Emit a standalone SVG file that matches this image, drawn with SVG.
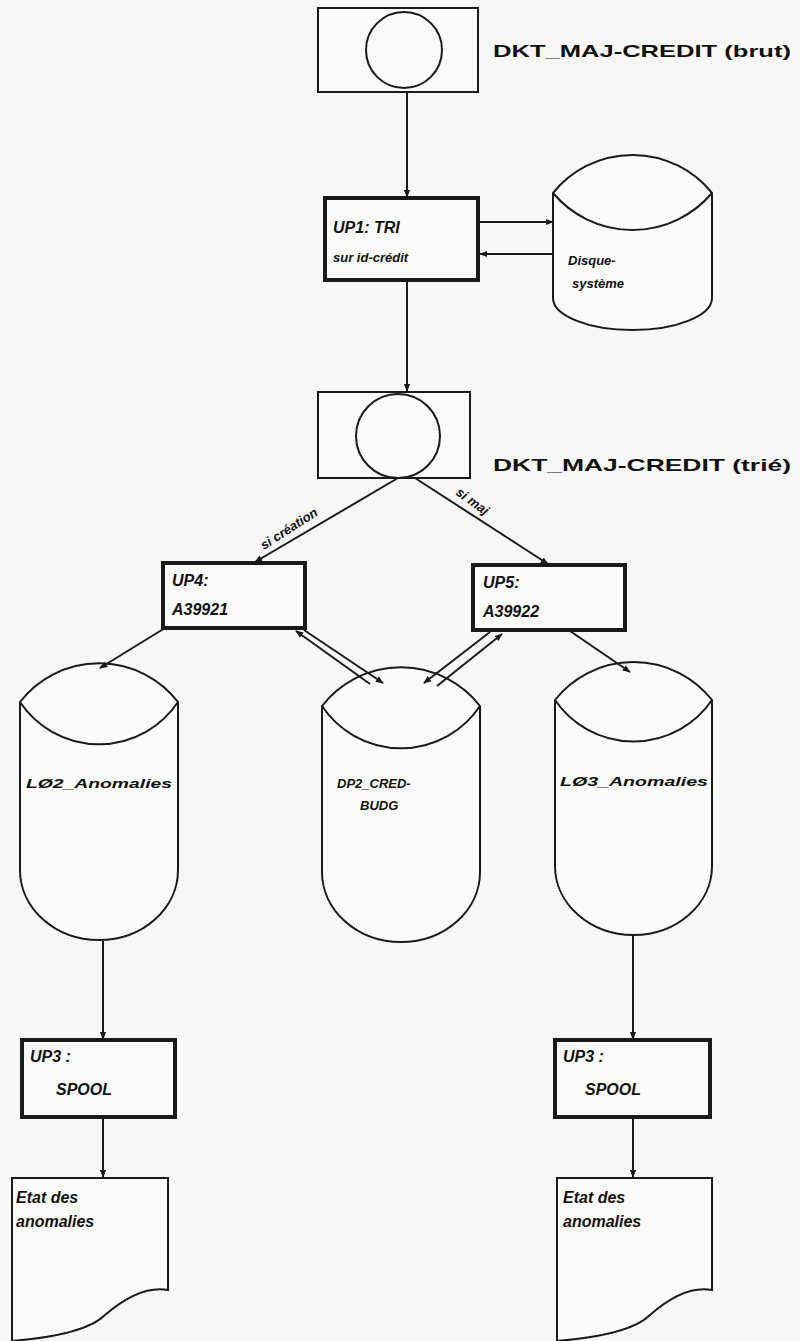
<svg xmlns="http://www.w3.org/2000/svg" width="800" height="1341" viewBox="0 0 800 1341">
<defs>
<marker id="ah" viewBox="0 0 10 10" refX="9" refY="5" markerWidth="8" markerHeight="8" markerUnits="userSpaceOnUse" orient="auto"><path d="M0,1 L10,5 L0,9 z" fill="#1a1a1a"/></marker>
</defs>
<style>
.bg{fill:#f7f7f5}
.ln{fill:none;stroke:#1a1a1a;stroke-width:2}
.box{fill:#fbfbfa;stroke:#1a1a1a;stroke-width:2}
.pbox{fill:#fbfbfa;stroke:#1a1a1a;stroke-width:4}
.shape{fill:#fbfbfa;stroke:#1a1a1a;stroke-width:2}
.con{fill:none;stroke:#1a1a1a;stroke-width:2;marker-end:url(#ah)}
.t{font-family:"Liberation Sans",Arial,sans-serif;font-weight:bold;font-style:italic;fill:#111}
.lab{font-family:"Liberation Sans",Arial,sans-serif;font-weight:bold;fill:#111;font-size:17px}
.p{font-size:16px}
.s{font-size:13px}
.xs{font-size:12px}
</style>
<rect class="bg" x="0" y="0" width="800" height="1341"/>

<g id="dkt-brut">
<rect class="box" x="318" y="8" width="160" height="84"/>
<circle class="ln" cx="404" cy="50" r="38"/>
<text class="lab" x="493" y="57" textLength="298" lengthAdjust="spacingAndGlyphs">DKT_MAJ-CREDIT (brut)</text>
</g>

<g id="up1">
<rect class="pbox" x="325" y="198" width="153" height="82"/>
<text class="t p" x="333" y="233">UP1: TRI</text>
<text class="t s" x="333" y="262">sur id-crédit</text>
</g>

<g id="disque">
<path class="shape" d="M553,193 A102,102 0 0 1 712,193 L712,298 A79.5,32 0 0 1 553,298 Z"/>
<path class="ln" d="M553,193 A104,104 0 0 0 712,193"/>
<text class="t s" x="568" y="265">Disque-</text>
<text class="t s" x="572" y="288">système</text>
</g>

<g id="dkt-trie">
<rect class="box" x="318" y="392" width="152" height="86"/>
<circle class="ln" cx="398" cy="436" r="42"/>
<text class="lab" x="493" y="471" textLength="298" lengthAdjust="spacingAndGlyphs">DKT_MAJ-CREDIT (trié)</text>
</g>

<g id="up4">
<rect class="pbox" x="163" y="563" width="142" height="65"/>
<text class="t p" x="172" y="586">UP4:</text>
<text class="t p" x="172" y="615">A39921</text>
</g>

<g id="up5">
<rect class="pbox" x="473" y="565" width="152" height="65"/>
<text class="t p" x="483" y="588">UP5:</text>
<text class="t p" x="483" y="617">A39922</text>
</g>

<g id="lo2">
<path class="shape" d="M20,702 A100,100 0 0 1 178,702 L178,870 A79,70 0 0 1 20,870 Z"/>
<path class="ln" d="M20,702 A95,95 0 0 0 178,702"/>
<text class="t xs" x="26" y="788" textLength="146" lengthAdjust="spacingAndGlyphs">LØ2_Anomalies</text>
</g>

<g id="dp2">
<path class="shape" d="M322,706 A100,100 0 0 1 480,706 L480,872 A79,70 0 0 1 322,872 Z"/>
<path class="ln" d="M322,706 A95,95 0 0 0 480,706"/>
<text class="t s" x="337" y="788">DP2_CRED-</text>
<text class="t s" x="360" y="810">BUDG</text>
</g>

<g id="lo3">
<path class="shape" d="M555,700 A100,100 0 0 1 712,700 L712,866 A78.5,69 0 0 1 555,866 Z"/>
<path class="ln" d="M555,700 A95,95 0 0 0 712,700"/>
<text class="t xs" x="560" y="786" textLength="148" lengthAdjust="spacingAndGlyphs">LØ3_Anomalies</text>
</g>

<g id="up3-left">
<rect class="pbox" x="22" y="1040" width="153" height="77"/>
<text class="t p" x="30" y="1062">UP3 :</text>
<text class="t p" x="56" y="1095">SPOOL</text>
</g>

<g id="up3-right">
<rect class="pbox" x="555" y="1040" width="155" height="77"/>
<text class="t p" x="563" y="1062">UP3 :</text>
<text class="t p" x="585" y="1095">SPOOL</text>
</g>

<g id="etat-left">
<path class="shape" d="M12,1178 L168,1178 L168,1290 Q140,1285 105,1315 Q85,1335 12,1341 Z"/>
<text class="t p" x="16" y="1203">Etat des</text>
<text class="t p" x="16" y="1227">anomalies</text>
</g>

<g id="etat-right">
<path class="shape" d="M557,1178 L712,1178 L712,1290 Q684,1285 650,1315 Q630,1335 557,1341 Z"/>
<text class="t p" x="563" y="1203">Etat des</text>
<text class="t p" x="563" y="1227">anomalies</text>
</g>

<g id="connectors">
<line class="con" x1="407" y1="92" x2="407" y2="197"/>
<line class="con" x1="480" y1="222" x2="553" y2="222"/>
<line class="con" x1="553" y1="254" x2="480" y2="254"/>
<line class="con" x1="407" y1="282" x2="407" y2="391"/>
<line class="con" x1="398" y1="478" x2="255" y2="562"/>
<line class="con" x1="415" y1="478" x2="548" y2="564"/>
<text class="t s" transform="translate(264,550) rotate(-33)">si création</text>
<text class="t s" transform="translate(455,494) rotate(36)">si maj</text>
<line class="con" x1="165" y1="628" x2="100" y2="668"/>
<line class="con" x1="370" y1="684" x2="296" y2="631"/>
<line class="con" x1="304" y1="630" x2="383" y2="683"/>
<line class="con" x1="490" y1="632" x2="424" y2="683"/>
<line class="con" x1="437" y1="686" x2="502" y2="634"/>
<line class="con" x1="570" y1="631" x2="630" y2="672"/>
<line class="con" x1="103" y1="941" x2="103" y2="1039"/>
<line class="con" x1="633" y1="936" x2="633" y2="1039"/>
<line class="con" x1="103" y1="1119" x2="103" y2="1177"/>
<line class="con" x1="633" y1="1119" x2="633" y2="1177"/>
</g>
</svg>
